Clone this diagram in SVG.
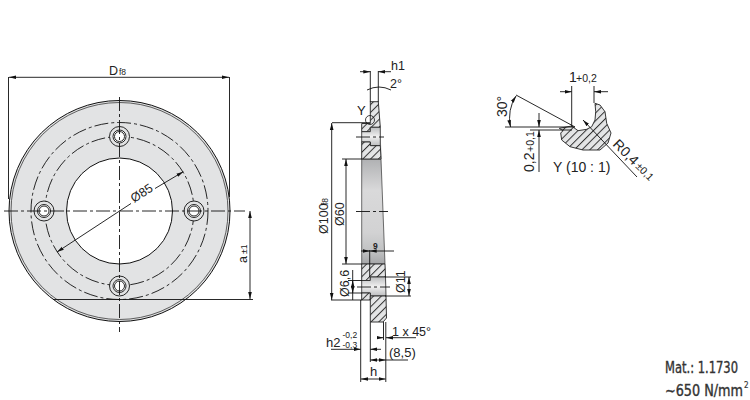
<svg xmlns="http://www.w3.org/2000/svg" width="750" height="400" viewBox="0 0 750 400">
<style>
text{font-family:"Liberation Sans",Arial,sans-serif;fill:#222}
.t{font-size:12.500px}.s{font-size:8.500px}
.b{font-size:14px}.bs{font-size:10.500px}
.l{fill:none;stroke:#111;stroke-width:.9}
.o{fill:none;stroke:#111;stroke-width:.9}
.c{fill:none;stroke:#111;stroke-width:.9;stroke-dasharray:14 3 3 3}
.d{fill:none;stroke:#111;stroke-width:.9;marker-start:url(#as);marker-end:url(#ae)}
.h{fill:url(#hatch);stroke:#222;stroke-width:.9}
.m{font-family:"DejaVu Sans Condensed","DejaVu Sans",sans-serif;font-size:15px;fill:#333;stroke:#333;stroke-width:.35}
</style>
<defs>
<pattern id="hatch" width="5.500" height="5.500" patternUnits="userSpaceOnUse" patternTransform="rotate(45)"><rect width="5.500" height="5.500" fill="#e4e5e6"/><line x1="0.500" y1="0" x2="0.500" y2="5.500" stroke="#333" stroke-width="1"/></pattern>
<linearGradient id="g" x1="0" y1="0" x2="0" y2="1"><stop offset="0" stop-color="#b0b1b3"/><stop offset=".3" stop-color="#d9d9da"/><stop offset=".7" stop-color="#d2d2d3"/><stop offset=".88" stop-color="#c0c1c2"/><stop offset="1" stop-color="#a5a6a8"/></linearGradient>
<linearGradient id="g2" x1="0" y1="0" x2="0" y2="1"><stop offset="0" stop-color="#bdbec0"/><stop offset=".5" stop-color="#f0f0f0"/><stop offset="1" stop-color="#bdbec0"/></linearGradient>
<marker id="ae" markerWidth="8" markerHeight="6" refX="7" refY="3" orient="auto" markerUnits="userSpaceOnUse"><path d="M0 1.200L7 3L0 4.800z" fill="#111"/></marker>
<marker id="as" markerWidth="8" markerHeight="6" refX="1" refY="3" orient="auto" markerUnits="userSpaceOnUse"><path d="M8 1.200L1 3L8 4.800z" fill="#111"/></marker>
</defs>

<g id="front-view">
<circle cx="119.500" cy="211" r="110.500" fill="#e2e3e4" stroke="#111" stroke-width="1"/>
<circle cx="119.500" cy="211" r="108.500" fill="none" stroke="#222" stroke-width=".7"/>
<circle cx="119.500" cy="211" r="53" fill="#fff" stroke="#111" stroke-width="1"/>
<circle cx="119.500" cy="211" r="88.500" class="c" stroke-dasharray="26 3 4 3"/>
<circle cx="119.500" cy="211" r="74.500" class="c" stroke-dasharray="26 3 4 3"/>
<g fill="#e2e3e4" stroke="#111" stroke-width=".9">
<circle cx="119.500" cy="136.500" r="10"/><circle cx="119.500" cy="136.500" r="6.500" fill="#fff"/><circle cx="119.500" cy="136.500" r="5" fill="#fff"/>
<circle cx="119.500" cy="286" r="10"/><circle cx="119.500" cy="286" r="6.500" fill="#fff"/><circle cx="119.500" cy="286" r="5" fill="#fff"/>
<circle cx="44" cy="211" r="10"/><circle cx="44" cy="211" r="6.500" fill="#fff"/><circle cx="44" cy="211" r="5" fill="#fff"/>
<circle cx="194" cy="211" r="10"/><circle cx="194" cy="211" r="6.500" fill="#fff"/><circle cx="194" cy="211" r="5" fill="#fff"/>
</g>
</g>

<g id="side-view">
<path d="M361.700 159H381L385 264H361.700Z" fill="url(#g)" stroke="#333" stroke-width=".7"/>
<path d="M378.300 101.700L382 159H380Z" fill="#c8c9ca"/>
<path d="M370.300 101.700H378.300L380.300 127.300H370.300V131.700H361.700V123.500H370.300Z" class="h"/>
<path d="M370.300 127.300H380.300V145.700H370.300V142H361.700V131.700H370.300Z" fill="url(#g2)" stroke="#222" stroke-width=".8"/>
<path d="M361.700 142H370.300V145.700H380.300L381 159H361.700Z" class="h"/>
<path d="M361.700 264H385L385.500 277H370.300V280.500H361.700Z" class="h"/>
<path d="M361.700 280.500H370.300V277H385.500L386 296H370.300V293H361.700Z" fill="url(#g2)" stroke="#222" stroke-width=".8"/>
<path d="M361.700 293H370.300V300H361.700Z" class="h"/>
<path d="M370.300 296H386L386.500 318L383 322H370.300Z" class="h"/>
<circle cx="370" cy="120" r="4.500" fill="none" stroke="#111" stroke-width=".8"/>
<path d="M356 137H384M356 211.500H388M357 287H390" class="c"/>
</g>

<g id="detail-view">
<path d="M595 103.300L600 105L605 111.700L606.700 123.300L611 133L608 143L600 150L583 150L570 146.700L561.700 140L560.700 133L563 130.700L559.300 128.300L571.700 126L578 130.700L586.700 129.300L591.700 126.700L595 120L595.700 111.700Z" class="h" stroke="none"/>
</g>

<g id="connectors">
<path class="l" d="M8.500 77V199M229.500 77V197M53 299.500H253M332 122.700H370M331 300H362M342 159H362M342 264H362M348 280.500H362M348 293H362M385 277H411M385 296H411M370.300 71V102M378.300 71V102M360.700 300V382M370.300 322V362M385.800 322V382M383.500 322V340M369.700 250V277M571.700 86V127M594 86V103M505 127H575M516 95L575 127M530 130H572"/>
<path class="c" d="M4 211H245M119.500 97V332"/>
<path class="d" d="M9 77.300H229"/>
<path class="d" d="M250 211V299"/>
<path class="o" marker-start="url(#as)" d="M57 252L131 203.500"/>
<path class="o" d="M155 188.500L183.300 171.700" marker-end="url(#ae)"/>
<path class="d" d="M331.700 123V300"/>
<path class="d" d="M346 159V264"/>
<path class="d" d="M352.700 280.500V293"/>
<path class="o" d="M352.700 270V300"/>
<path class="d" d="M409 277V296"/>
<path class="o" marker-end="url(#ae)" d="M360 71.700H370.300"/>
<path class="o" marker-end="url(#ae)" d="M391 71.700H378.300"/>
<path class="o" d="M367 90Q379 84 391 90"/>
<path class="o" marker-end="url(#ae)" d="M394 251H369.700"/>
<path class="o" marker-end="url(#ae)" d="M361 251H369.700"/>
<path class="o" marker-end="url(#ae)" d="M377 337.700H383.500"/>
<path class="o" marker-end="url(#ae)" d="M416 337.700H386"/>
<path class="o" marker-end="url(#ae)" d="M331 349.300H360.700"/>
<path class="o" marker-end="url(#ae)" d="M381 349.300H370.300"/>
<path class="d" d="M370.300 360H385.800"/>
<path class="o" d="M385.800 360H408"/>
<path class="d" d="M361 379H385.500"/>
<path class="o" marker-end="url(#ae)" d="M560 91.700H571.700"/>
<path class="o" marker-end="url(#ae)" d="M608 91.700H594"/>
<path class="o" marker-start="url(#as)" marker-end="url(#ae)" d="M516 96Q507 110 510.500 127"/>
<path class="o" marker-end="url(#ae)" d="M539 113V127"/>
<path class="o" marker-end="url(#ae)" d="M539 172V130"/>
<path class="o" marker-start="url(#as)" d="M583 120L637 177"/>
</g>

<g id="labels">
<text class="t" x="109" y="75">D</text><text class="s" x="119" y="75">f8</text>
<text class="t" transform="translate(247 263) rotate(-90)">a</text><text class="s" transform="translate(247 254) rotate(-90)">±1</text>
<text class="t" transform="translate(134 203) rotate(-33)">Ø85</text>
<text class="t" x="391" y="70">h1</text><text class="t" x="390" y="88">2°</text>
<text x="357" y="115" style="font-size:13px">Y</text>
<text class="t" transform="translate(328 234) rotate(-90)">Ø100</text><text class="s" transform="translate(328 205) rotate(-90)">f8</text>
<text class="t" transform="translate(344 226) rotate(-90)">Ø60</text>
<text class="s" x="373" y="249" style="font-weight:bold">9</text>
<text class="t" transform="translate(349 297) rotate(-90)">Ø6,6</text>
<text class="t" transform="translate(405 293) rotate(-90)">Ø11</text>
<text class="t" x="392" y="336">1 x 45°</text>
<text class="t" x="326" y="347" style="font-size:13px">h2</text><text x="342.500" y="338" style="font-size:8.500px">-0,2</text><text x="342.500" y="347.500" style="font-size:8.500px">-0,3</text>
<text class="t" x="389" y="357" style="font-size:13px">(8,5)</text>
<text class="t" x="370" y="376" style="font-size:13px">h</text>
<text class="b" x="569" y="82">1</text><text class="bs" x="576" y="82">+0,2</text>
<text class="b" transform="translate(507 117) rotate(-90)">30°</text>
<text class="b" transform="translate(534 172) rotate(-90)">0,2</text><text class="bs" transform="translate(534 152) rotate(-90)">+0,1</text>
<text class="b" x="553" y="172">Y (10 : 1)</text>
<text class="b" transform="translate(612 145) rotate(45)">R0,4</text><text class="bs" transform="translate(635 167) rotate(45)">±0,1</text>
<text class="m" x="665" y="373" textLength="73" lengthAdjust="spacingAndGlyphs">Mat.: 1.1730</text>
<text class="m" x="665" y="396" textLength="78" lengthAdjust="spacingAndGlyphs">~650 N/mm</text><text class="m" x="744" y="388" style="font-size:8px;stroke-width:.2">2</text>
</g>
</svg>
